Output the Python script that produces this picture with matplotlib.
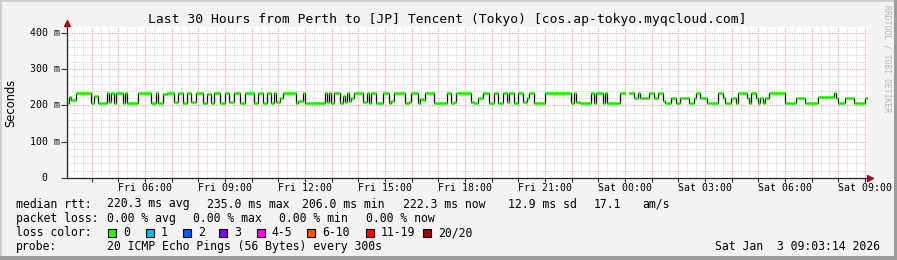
import numpy as np
import matplotlib
matplotlib.use('Agg')
import matplotlib.pyplot as plt
from matplotlib.patches import Rectangle

# ---- data (median rtt in ms, one sample every 5 min, run-length encoded) ----
rtt_runs = [
    # Fri 03:00 - 06:45
    (1, 206), (1, 224), (2, 214), (7, 235), (1, 208), (2, 226), (4, 206), (1, 235),
    (1, 209), (1, 235), (1, 208), (3, 235), (1, 207), (1, 234), (5, 206), (6, 235),
    (2, 207), (1, 234), (2, 207), (2, 233),
    # Fri 06:45 - 10:30
    (3, 235), (2, 210), (2, 235), (2, 207), (2, 235), (2, 210), (3, 235), (2, 206),
    (2, 232), (1, 208), (3, 235), (2, 207), (2, 235), (2, 209), (3, 235), (2, 208),
    (4, 235), (2, 208), (2, 235), (2, 207), (2, 235), (1, 206),
    # Fri 10:30 - 14:00
    (1, 235), (2, 210), (1, 220), (6, 235), (1, 208), (2, 212), (1, 235), (9, 206),
    (1, 235), (1, 210), (1, 235), (1, 208), (3, 235), (1, 207), (1, 225), (1, 210),
    (1, 235), (1, 212), (1, 220), (4, 235),
    # Fri 14:00 - 17:45
    (2, 210), (1, 235), (1, 208), (2, 235), (3, 207), (3, 235),
    (1, 208), (1, 212), (5, 235), (2, 208), (1, 210), (3, 235), (1, 207), (1, 218),
    (1, 214), (4, 235), (6, 206), (2, 235), (1, 208), (1, 210), (2, 235),
    # Fri 17:45 - 22:00
    (5, 235), (1, 210), (2, 207), (2, 222), (3, 235), (2, 208), (2, 235), (2, 207),
    (2, 235), (1, 210), (2, 235), (2, 207), (2, 235), (2, 209), (1, 220), (2, 235),
    (5, 206), (12, 235),
    # Fri 22:00 - Sat 00:10
    (1, 206), (1, 235), (2, 209), (5, 206), (1, 235), (1, 208), (3, 235), (1, 208),
    (1, 235), (6, 206), (2, 235), (2, None),
    # Sat 00:10 - 09:00
    (2, 235), (2, 220), (1, 235), (4, 220), (2, 235), (2, 221), (2, 235), (1, 212),
    (3, 206), (2, 222), (2, 206), (4, 220), (2, 206), (1, 220), (2, 235), (3, 222),
    (5, 206), (2, 235), (1, 220), (3, 206), (2, 220), (1, 206), (4, 235), (1, 220),
    (1, 206), (2, 235), (1, 220), (1, 206), (1, 220), (1, 206), (2, 220), (7, 235),
    (5, 206), (4, 222), (6, 206), (7, 223), (1, 235), (1, 220), (3, 206), (4, 221),
    (5, 206), (2, 222),
]

y_ticks = [0, 100, 200, 300, 400]
y_tick_labels = ['0  ', '100 m', '200 m', '300 m', '400 m']
x_label_hours = [6, 9, 12, 15, 18, 21, 24, 27, 30, 33]
x_tick_labels = ['Fri 06:00', 'Fri 09:00', 'Fri 12:00', 'Fri 15:00', 'Fri 18:00',
                 'Fri 21:00', 'Sat 00:00', 'Sat 03:00', 'Sat 06:00', 'Sat 09:00']

loss_labels = ['0', '1', '2', '3', '4-5', '6-10', '11-19', '20/20']
loss_colors = ['#26ff00', '#00b8ff', '#0059ff', '#7e00ff', '#ff00ff', '#ff5500', '#ff0000', '#a10000']

stats_rtt = ['220.3 ms avg', '235.0 ms max', '206.0 ms min', '222.3 ms now', '12.9 ms sd', '17.1', 'am/s']
stats_loss = ['0.00 % avg', '0.00 % max', '0.00 % min', '0.00 % now']

# ---- figure ----
W, H = 897, 260
fig = plt.figure(figsize=(W / 100, H / 100), dpi=100)
fig.patch.set_facecolor('#f3f3f3')
mono = 'DejaVu Sans Mono'


def fx(x):
    return x / W


def fy(y):
    return 1 - y / H


# 3d frame
fig.patches.append(Rectangle((0, fy(2)), 1, 2 / H, transform=fig.transFigure, color='#cfcfcf', lw=0))
fig.patches.append(Rectangle((0, 0), 2 / W, 1, transform=fig.transFigure, color='#cfcfcf', lw=0))
fig.patches.append(Rectangle((0, 0), 1, 4 / H, transform=fig.transFigure, color='#9b9b9b', lw=0))
fig.patches.append(Rectangle((fx(894), 0), 3 / W, 1, transform=fig.transFigure, color='#9b9b9b', lw=0))

x_left, x_right, y_top, y_bot = 67, 868, 27, 178
ax = fig.add_axes([fx(x_left), fy(y_bot), (x_right - x_left) / W, (y_bot - y_top) / H])
ax.set_facecolor('white')
t0 = 6 - (145 - x_left) / (720 / 27)
t1 = 33 + (x_right - 865) / (720 / 27)
ax.set_xlim(t0, t1)
ax.set_ylim(0, 416.5)
for s in ax.spines.values():
    s.set_visible(False)

# grid
for h in np.arange(np.ceil(t0 * 3) / 3, t1, 1 / 3):
    if abs(h - round(h)) > 0.01:
        ax.axvline(h, color='#d4d4d4', lw=0.8, ls=(0, (1, 1)), zorder=1)
for v in range(20, 420, 20):
    if v % 100:
        ax.axhline(v, color='#d4d4d4', lw=0.8, ls=(0, (1, 1)), zorder=1)
for h in range(4, 34):
    ax.axvline(h, color='#f2a0a0', lw=0.8, ls=(0, (1, 1)), zorder=2)
for v in y_ticks[1:]:
    ax.axhline(v, color='#f2a0a0', lw=0.8, ls=(0, (1, 1)), zorder=2)

# data
vals = []
for n, v in rtt_runs:
    vals += [np.nan if v is None else v] * n
vals = np.array(vals, dtype=float)
dt = 5 / 60
t = t0 + np.arange(len(vals)) * dt
edges = np.append(t, t[-1] + dt)
ax.step(edges, np.append(vals, vals[-1]), where='post', color='#111111', lw=0.9, zorder=3)
ok = ~np.isnan(vals)
ax.hlines(vals[ok], t[ok], t[ok] + dt, color='#26ff00', lw=2.0, zorder=4)

# ticks
ax.set_xticks(list(range(4, 34)))
ax.set_xticklabels([''] * 30)
ax.tick_params(axis='x', length=3, width=0.8, color='#333333')
ax.set_yticks(y_ticks)
ax.set_yticklabels([])
ax.tick_params(axis='y', length=4, width=0.8, color='#333333')
for h, lab in zip(x_label_hours, x_tick_labels):
    fig.text(fx(x_left + (h - t0) * 720 / 27), fy(188), lab, family=mono, fontsize=7.1,
             ha='center', va='center')
for v, lab in zip(y_ticks, y_tick_labels):
    fig.text(fx(60), fy(y_bot - v * (y_bot - y_top) / 416.5), lab, family=mono, fontsize=7.1,
             ha='right', va='center')

# axis lines + arrows
fig.add_artist(plt.Line2D([fx(67), fx(67)], [fy(178), fy(24)], color='#222222', lw=0.9))
fig.add_artist(plt.Line2D([fx(67), fx(870)], [fy(178), fy(178)], color='#222222', lw=0.9))
fig.add_artist(plt.Line2D([fx(67)], [fy(23)], marker='^', ms=4, color='#a01010', lw=0))
fig.add_artist(plt.Line2D([fx(870)], [fy(178)], marker='>', ms=4, color='#a01010', lw=0))

# title and side labels
fig.text(fx(447), fy(19), 'Last 30 Hours from Perth to [JP] Tencent (Tokyo) [cos.ap-tokyo.myqcloud.com]',
         family=mono, fontsize=9.4, ha='center', va='center')
fig.text(fx(11), fy(103), 'Seconds', fontsize=8.3, rotation=90, ha='center', va='center')
fig.text(fx(887), fy(59), 'RRDTOOL / TOBI OETIKER', family=mono, fontsize=5.8, rotation=270,
         ha='center', va='center', color='#b8b8b8')

# legend rows
fs = 8.3
fig.text(fx(16), fy(204), 'median rtt:', family=mono, fontsize=fs, va='center')
for x, s in zip([107.3, 207.3, 301.7, 403, 507.7, 593.3, 642.3], stats_rtt):
    fig.text(fx(x), fy(204), s, family=mono, fontsize=fs, va='center')
fig.text(fx(16), fy(218.5), 'packet loss:', family=mono, fontsize=fs, va='center')
for x, s in zip([107.3, 193.3, 279.3, 365.7], stats_loss):
    fig.text(fx(x), fy(218.5), s, family=mono, fontsize=fs, va='center')
fig.text(fx(16), fy(232.5), 'loss color:', family=mono, fontsize=fs, va='center')
box_x = [108.3, 145.7, 182.7, 219.3, 256.7, 307.3, 365.7, 423.3]
for bx, lab, col in zip(box_x, loss_labels, loss_colors):
    fig.patches.append(Rectangle((fx(bx), fy(236.5)), 8 / W, 8 / H, transform=fig.transFigure,
                                 facecolor=col, edgecolor='black', lw=0.8))
    fig.text(fx(bx + 15), fy(232.5), lab, family=mono, fontsize=fs, va='center')
fig.text(fx(16), fy(246.7), 'probe:', family=mono, fontsize=fs, va='center')
fig.text(fx(107.3), fy(246.7), '20 ICMP Echo Pings (56 Bytes) every 300s', family=mono, fontsize=fs, va='center')
fig.text(fx(880), fy(246.7), 'Sat Jan  3 09:03:14 2026', family=mono, fontsize=fs, va='center', ha='right')

fig.savefig('out.png', dpi=100, facecolor=fig.get_facecolor())
